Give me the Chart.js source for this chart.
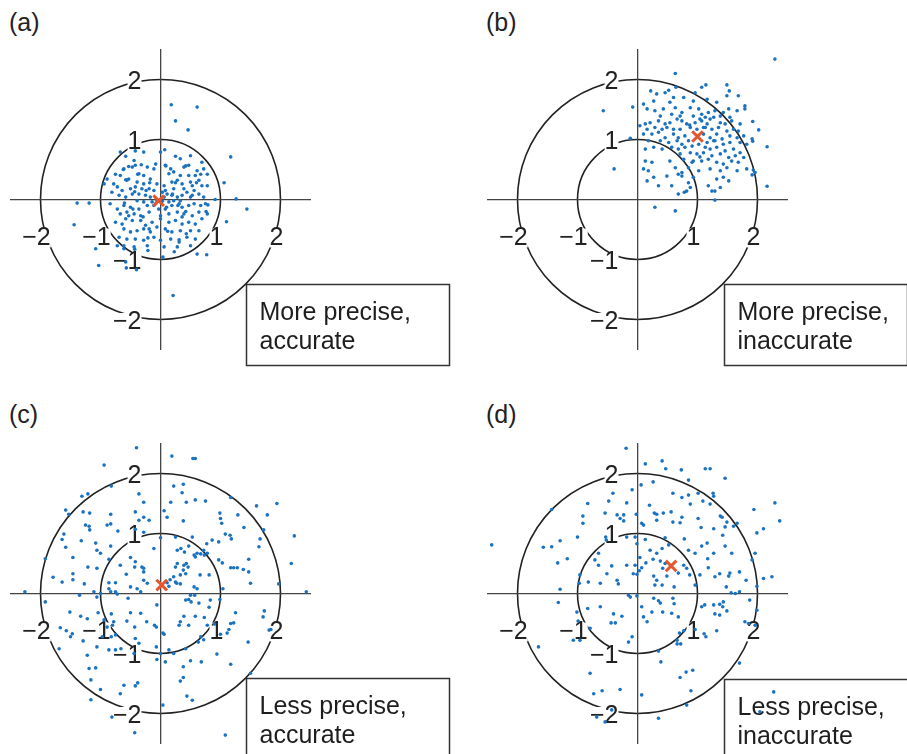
<!DOCTYPE html>
<html>
<head>
<meta charset="utf-8">
<script src="https://cdn.jsdelivr.net/npm/chart.js@4.4.0/dist/chart.umd.min.js"></script>
<style>
  body { margin: 0; background: #fff; width: 907px; height: 754px; overflow: hidden; position: relative; }
  canvas { position: absolute; }
  .tag { position: absolute; font: 25px/1 "Liberation Sans", Arial, sans-serif; color: #222; z-index: 2; }
</style>
</head>
<body>
<div class="tag" style="left:9px;top:10px">(a)</div>
<div class="tag" style="left:486px;top:10px">(b)</div>
<div class="tag" style="left:9px;top:402px">(c)</div>
<div class="tag" style="left:486px;top:402px">(d)</div>
<canvas id="pa" width="470" height="350"></canvas>
<canvas id="pb" width="440" height="350"></canvas>
<canvas id="pc" width="470" height="330"></canvas>
<canvas id="pd" width="440" height="330"></canvas>
<script>
// axis ticks and target rings (data units)
var tickValues = [-2, -1, 1, 2];
var tickLabels = ['\u22122', '\u22121', '1', '2'];
var ringRadii = [1, 2];

// captions
var captionA = ['More precise,', 'accurate'];
var captionB = ['More precise,', 'inaccurate'];
var captionC = ['Less precise,', 'accurate'];
var captionD = ['Less precise,', 'inaccurate'];

// mean of each cloud (red cross)
var meanA = [-0.03, -0.02];
var meanB = [1.0, 1.05];
var meanC = [0.02, 0.14];
var meanD = [0.56, 0.46];

var pointsA = [
  [0.18,1.58],[0.61,1.54],[0.25,1.31],[0.46,1.16],[1.17,0.71],[1.06,0.28],[1.26,0.01],[1.44,-0.16],
  [1.10,-0.37],[0.91,0],[0.79,-0.09],[0.76,-0.2],[-1.39,-0.06],[-1.19,-0.06],[-1.44,-0.42],[-1.08,-0.82],
  [-1.03,-1.1],[-0.57,-1.14],[-0.4,-1.17],[-0.58,-1.04],[0.21,-1.6],[0.61,-0.91],[0.77,-0.92],[0.04,-0.96],
  [-0.89,0.34],[-0.94,0.26],[-0.84,-0.07],[0.23,-0.87],[-0.21,-0.85],[0.07,0.83],[-0.67,0.79],[-0.72,-0.77],
  [-0.61,-0.82],[-0.43,-0.83],
  [-0.42,0.81],[-0.28,0.79],[0,0.79],[0.25,0.72],[0.33,0.68],[0.50,0.73],[0.69,0.62],[-0.44,0.65],
  [-0.58,0.72],[-0.08,0.59],[0.08,0.57],[-0.75,0.42],[-0.61,0.51],[-0.47,0.54],[-0.42,0.57],[-0.22,0.54],
  [-0.11,0.51],[0.17,0.51],[0.22,0.46],[0.39,0.54],[0.47,0.57],[0.61,0.48],[0.72,0.51],[0.58,0.40],
  [0.67,0.42],[0.78,0.42],[-0.36,0.43],[-0.28,0.40],[-0.67,0.40],[0.33,0.40],[0.14,0.43],[-0.78,0.26],
  [-0.72,0.21],[-0.58,0.33],[-0.53,0.34],[-0.39,0.29],[-0.28,0.26],[-0.17,0.34],[-0.06,0.26],[0.06,0.23],
  [0.19,0.29],[0.28,0.32],[0.36,0.26],[0.50,0.29],[0.53,0.23],[0.64,0.32],[0.69,0.23],[0.78,0.23],
  [-0.64,0.15],[-0.50,0.18],[-0.42,0.21],[-0.31,0.18],[-0.19,0.18],[-0.11,0.15],[0.08,0.15],[0.22,0.18],
  [0.39,0.18],[0.44,0.12],[0.56,0.15],[-0.81,0.12],[-0.69,0.07],[-0.58,0.04],[-0.47,0.09],[-0.36,0.09],
  [-0.25,0.07],[-0.17,0.04],[0.11,0.09],[0.19,0.07],[0.28,0.04],[0.36,0.07],[0.50,0.04],[0.64,0.09],
  [0.72,0.04],[0.33,-0.02],[0.22,-0.02],[0.14,-0.04],[-0.14,-0.04],[-0.28,-0.04],[-0.39,-0.02],[-0.72,-0.16],
  [-0.61,-0.10],[-0.50,-0.13],[-0.36,-0.16],[-0.22,-0.10],[-0.11,-0.10],[-0.03,-0.16],[0.08,-0.16],[0.19,-0.10],
  [0.31,-0.07],[0.36,-0.13],[0.47,-0.10],[0.56,-0.07],[0.67,-0.10],[0.75,-0.07],[-0.67,-0.24],[-0.56,-0.21],
  [-0.44,-0.24],[-0.33,-0.27],[-0.19,-0.21],[0,-0.27],[0.14,-0.24],[0.28,-0.21],[0.39,-0.24],[0.53,-0.27],
  [0.64,-0.21],[0.78,-0.24],[-0.75,-0.38],[-0.64,-0.41],[-0.58,-0.32],[-0.47,-0.35],[-0.33,-0.35],[-0.25,-0.43],
  [-0.14,-0.38],[0,-0.32],[0.14,-0.38],[0.25,-0.35],[0.36,-0.41],[0.47,-0.38],[0.58,-0.41],[0.69,-0.32],
  [-0.61,-0.49],[-0.50,-0.54],[-0.39,-0.52],[-0.28,-0.49],[-0.17,-0.54],[-0.06,-0.46],[0.08,-0.49],[0.19,-0.54],
  [0.33,-0.52],[0.50,-0.52],[0.64,-0.52],[-0.69,-0.63],[-0.56,-0.66],[-0.42,-0.66],[-0.28,-0.68],[-0.11,-0.63],
  [0,-0.68],[0.17,-0.66],[0.31,-0.71],[0.44,-0.63],[0.58,-0.66],[-0.61,-0.77],[-0.44,-0.79],[-0.22,-0.77],
  [0.06,-0.79],[0.28,-0.79],[0.50,-0.77],[-0.06,-0.02],[0.06,0.04],[0.03,0.12],[-0.08,-0.07],
  [-0.53,0.55],[-0.32,0.58],[0.09,0.56],[0.42,0.56],[-0.62,0.50],[-0.38,0.42],[0.47,0.40],[-0.56,0.32],
  [-0.18,0.28],[0.25,0.28],[0.60,0.28],[-0.43,0.13],[-0.24,0.15],[0.20,0.09],[0.53,0.07],[-0.60,-0.06],
  [0.03,-0.03],[0.29,-0.10],[-0.46,-0.16],[0.10,-0.13],[0.42,-0.20],[-0.53,-0.27],[-0.29,-0.29],[0.36,-0.29],
  [-0.19,-0.49],[0.12,-0.53],[0.43,-0.57],[-0.21,-0.64],[0.31,-0.67]
];

var pointsB = [
  [2.29,2.34],[0.63,2.10],[1.14,1.91],[1.49,1.91],[0.52,1.82],[0.64,1.87],[1.07,1.87],[-0.57,1.48],
  [-0.08,1.54],[0.04,1.23],[1.92,1.30],[2.02,1.16],[2.16,0.88],[2.16,0.22],[1.93,0.49],[1.96,0.45],
  [1.91,0.41],[1.91,1.01],[1.92,0.97],[1.29,-0.01],[1.29,0.14],[0.68,0.09],[0.78,0.12],[0.29,-0.13],
  [0.63,-0.19],[-0.39,0.51],[-0.12,1.02],[1.68,1.73],[1.53,1.81],[0.22,1.81],
  [0.32,1.76],[0.46,1.78],[0.60,1.70],[0.77,1.70],[0.96,1.78],[1.16,1.67],[1.32,1.62],[1.49,1.73],
  [1.79,1.56],[0.10,1.59],[0.27,1.64],[0.54,1.62],[0.93,1.64],[0.16,1.51],[0.29,1.48],[0.43,1.51],
  [0.63,1.53],[0.74,1.45],[0.88,1.53],[1.02,1.51],[1.07,1.42],[1.18,1.45],[1.29,1.48],[1.43,1.45],
  [1.52,1.51],[1.66,1.48],[1.79,1.51],[0.38,1.39],[0.57,1.42],[0.71,1.39],[0.93,1.39],[1.13,1.37],
  [1.27,1.37],[1.38,1.39],[1.54,1.37],[0.13,1.26],[0.21,1.28],[0.35,1.31],[0.46,1.26],[0.54,1.28],
  [0.66,1.34],[0.74,1.31],[0.82,1.26],[0.96,1.28],[1.07,1.31],[1.16,1.26],[1.21,1.34],[1.38,1.28],
  [1.46,1.26],[1.57,1.31],[1.71,1.26],[0.16,1.17],[0.29,1.20],[0.41,1.17],[0.49,1.20],[0.60,1.17],
  [0.71,1.17],[0.88,1.20],[0.99,1.17],[1.13,1.20],[1.24,1.17],[1.35,1.20],[1.49,1.14],[1.60,1.17],
  [1.68,1.14],[0.10,1.09],[0.24,1.09],[0.35,1.12],[0.46,1.03],[0.60,1.09],[0.68,1.03],[0.79,1.06],
  [1.10,1.09],[1.21,1.03],[1.32,1.09],[1.41,1.01],[1.54,1.06],[1.66,1.03],[1.77,1.06],[0.18,0.98],
  [0.38,0.98],[0.52,0.95],[0.66,0.98],[0.74,0.92],[0.85,0.98],[1.16,0.95],[1.27,0.98],[1.43,0.92],
  [1.54,0.95],[1.71,0.95],[1.82,0.92],[0.13,0.84],[0.27,0.87],[0.41,0.84],[0.57,0.87],[0.68,0.84],
  [0.79,0.87],[0.91,0.89],[1.02,0.92],[1.13,0.87],[1.21,0.84],[1.32,0.87],[1.46,0.81],[1.60,0.84],
  [1.71,0.78],[0.71,0.76],[0.88,0.78],[0.99,0.76],[1.10,0.78],[1.24,0.73],[1.38,0.76],[1.52,0.70],
  [1.63,0.73],[1.77,0.70],[0.13,0.64],[0.24,0.62],[0.54,0.64],[0.77,0.67],[0.93,0.64],[1.07,0.64],
  [1.18,0.67],[1.32,0.62],[1.43,0.59],[1.57,0.64],[1.68,0.62],[0.10,0.51],[0.18,0.48],[0.63,0.53],
  [0.74,0.45],[0.85,0.53],[1.02,0.48],[1.21,0.51],[1.38,0.48],[1.49,0.53],[1.66,0.48],[1.82,0.51],
  [0.27,0.37],[0.49,0.39],[0.68,0.42],[0.74,0.39],[0.93,0.37],[1.32,0.34],[1.43,0.37],[0.35,0.23],
  [0.57,0.23],[0.88,0.20],[1.18,0.23],[1.38,0.20],[0.16,0.31],[0.85,0.28],[1.52,0.31],[0.82,0.14],
  [1.24,0.14],[1.04,1.34],[0.87,1.24],[1.10,1.20],[1.29,0.98],[0.91,0.62],[1.04,0.71]
];

var pointsC = [
  [-0.40,2.43],[0.19,2.29],[0.54,2.25],[0.58,2.25],[-0.94,2.14],[-0.82,1.79],[0.22,1.79],[0.38,1.82],
  [0.36,1.68],[-0.36,1.66],[-1.31,1.62],[-1.21,1.66],[-0.28,1.52],[0.17,1.52],[0.43,1.52],[0.58,1.56],
  [0.75,1.54],[1.17,1.60],[1.60,1.46],[1.94,1.50],[-1.58,1.39],[-1.53,1.32],[-1.29,1.36],[-1.18,1.34],
  [-0.83,1.32],[-0.42,1.36],[0.06,1.38],[0.11,1.27],[-0.36,1.22],[-0.28,1.27],[-0.19,1.22],[0.38,1.21],
  [0.99,1.34],[1.00,1.25],[1.02,1.17],[1.29,1.31],[1.78,1.31],[-1.25,1.14],[-1.19,1.12],[-0.89,1.14],
  [-0.83,1.16],[-1.18,1.06],[-0.71,1.04],[-1.61,0.99],[-1.64,0.90],[-1.32,0.88],[-1.58,0.77],[-1.06,0.72],
  [-0.83,0.79],[-1.00,0.67],[-1.08,0.84],[-0.42,1.07],[-0.28,1.02],[0.00,0.93],[0.25,0.94],[0.53,0.94],
  [0.77,0.83],[0.86,0.89],[0.97,0.86],[1.08,0.99],[1.16,0.97],[1.18,0.91],[1.39,1.10],[1.66,0.91],
  [1.72,1.06],[1.64,0.78],[2.23,0.96],[-0.11,0.75],[0.28,0.72],[0.34,0.75],[0.40,0.69],[0.47,0.79],
  [0.56,0.64],[0.61,0.67],[0.67,0.66],[0.73,0.64],[0.72,0.72],[0.58,0.61],[0.78,0.67],[-1.92,0.58],
  [-1.46,0.60],[-1.21,0.44],[-1.06,0.42],[-0.86,0.57],[-0.67,0.47],[-0.50,0.60],[-0.42,0.53],[-0.43,0.44],
  [-0.31,0.44],[-0.28,0.42],[-0.28,0.36],[-0.57,0.32],[-0.75,0.18],[-0.86,0.18],[-0.86,0.08],[-0.83,0.03],
  [-0.75,0.03],[-0.72,-0.01],[-0.50,0.11],[-0.39,0.08],[-0.33,0.03],[-0.28,0.22],[-0.22,0.17],[0.28,0.50],
  [0.25,0.44],[0.39,0.47],[0.43,0.50],[0.46,0.44],[0.38,0.39],[0.42,0.33],[0.33,0.31],[0.22,0.28],
  [0.16,0.23],[0.25,0.19],[0.27,0.17],[0.33,0.16],[0.11,0.18],[0.14,0.12],[0.66,0.31],[0.81,0.31],
  [0.56,0.11],[0.61,0.08],[0.50,-0.03],[0.97,0.56],[1.03,0.51],[1.17,0.43],[1.22,0.43],[1.28,0.43],
  [1.38,0.40],[1.47,0.36],[1.47,0.57],[1.50,0.17],[1.04,0.08],[1.97,0.16],[2.43,0.03],[2.18,0.50],
  [-1.79,0.27],[-1.64,0.19],[-1.46,0.33],[-1.46,0.23],[-1.27,0.16],[-2.26,0.03],[-1.35,-0.03],[-1.11,0.03],
  [-1.06,-0.06],[-1.00,0.00],[-1.92,-0.14],[-1.51,-0.31],[-1.33,-0.38],[-1.22,-0.42],[-1.04,-0.32],[-0.82,-0.34],
  [-0.78,-0.47],[-0.94,-0.44],[-0.89,-0.56],[-0.80,-0.53],[-0.54,-0.08],[-0.50,-0.32],[-0.56,-0.46],[-0.43,-0.56],
  [-0.33,-0.33],[-0.23,-0.47],[-0.10,-0.53],[-0.07,-0.56],[-0.06,-0.19],[0.04,-0.66],[0.06,-0.68],[0.42,-0.11],
  [0.47,-0.10],[0.51,-0.14],[0.57,-0.03],[0.64,-0.16],[0.83,-0.11],[0.81,-0.23],[0.99,-0.10],[0.33,-0.47],
  [0.31,-0.53],[0.39,-0.38],[0.47,-0.53],[0.58,-0.38],[0.73,-0.40],[0.78,-0.53],[0.90,-0.51],[1.17,-0.50],
  [1.22,-0.49],[1.25,-0.32],[1.14,-0.60],[1.11,-0.66],[1.00,-0.68],[1.73,-0.29],[1.71,-0.39],[1.81,-0.61],
  [1.84,-0.60],[0.67,-0.72],[0.63,-0.81],[0.72,-0.77],[1.46,-0.81],[-1.67,-0.57],[-1.57,-0.62],[-1.47,-0.67],
  [-1.50,-0.72],[-1.29,-0.79],[-1.06,-0.89],[-0.97,-0.72],[-0.82,-0.72],[-0.75,-0.69],[-1.69,-0.92],[-1.22,-1.03],
  [-1.19,-1.25],[-1.08,-1.24],[-1.16,-1.44],[-0.86,-0.94],[-0.75,-0.94],[-0.66,-0.92],[-0.44,-1.00],[-0.36,-0.83],
  [-0.42,-0.75],[-0.07,-0.89],[0.00,-1.00],[-0.06,-1.10],[0.14,-0.94],[0.22,-1.00],[0.08,-1.14],[0.42,-0.92],
  [0.38,-1.22],[0.50,-1.12],[0.68,-1.14],[0.94,-1.01],[1.17,-1.18],[0.38,-1.40],[0.33,-1.46],[-0.38,-1.49],
  [-0.42,-1.54],[-0.61,-1.53],[-1.00,-1.60],[-0.67,-1.67],[-1.16,-1.77],[-0.81,-2.06],[-0.43,-2.32],[0.04,-1.86],
  [0.44,-1.71],[0.53,-1.78],[1.08,-2.36],[1.50,-1.33]
];

var pointsD = [
  [-0.19,2.42],[0.13,2.16],[0.41,2.21],[0.47,2.08],[0.73,2.06],[1.13,2.08],[1.21,2.08],[1.46,1.92],
  [0.85,1.89],[0.26,1.86],[0.06,1.81],[-0.09,1.73],[-0.41,1.67],[0.59,1.67],[0.74,1.60],[0.85,1.64],
  [1.01,1.67],[1.26,1.67],[1.27,1.62],[1.09,1.54],[1.21,1.49],[0.88,1.49],[0.20,1.47],[-0.18,1.51],
  [-0.48,1.54],[-0.83,1.50],[-1.43,1.40],[-0.54,1.34],[-0.34,1.31],[-0.23,1.31],[-0.29,1.25],[-0.23,1.21],
  [-0.02,1.32],[0.28,1.34],[0.32,1.32],[0.43,1.34],[0.56,1.36],[0.74,1.27],[1.01,1.25],[1.38,1.29],
  [1.41,1.27],[1.49,1.19],[1.66,1.17],[1.94,1.40],[2.29,1.51],[2.37,1.21],[2.10,1.08],[1.99,1.01],
  [0.07,1.17],[0.10,1.14],[0.32,1.22],[0.59,1.19],[0.71,1.18],[1.06,1.10],[1.27,1.08],[1.42,0.97],
  [1.46,1.11],[1.60,1.12],[-0.91,1.29],[-0.91,1.17],[-1.00,0.94],[-1.29,0.88],[-1.57,0.77],[-1.43,0.78],
  [-1.17,0.58],[-1.33,0.51],[-2.43,0.81],[-0.53,0.94],[-0.52,0.89],[-0.18,0.94],[-0.04,0.94],[-0.01,0.83],
  [0.13,0.90],[0.46,0.93],[0.52,0.81],[0.78,0.91],[0.85,0.72],[0.96,0.67],[1.07,0.79],[1.16,0.84],
  [1.46,0.79],[1.57,0.67],[1.27,0.67],[1.96,0.67],[1.91,0.56],[-0.65,0.67],[-0.71,0.56],[-0.65,0.47],
  [-0.43,0.46],[-0.18,0.47],[-0.04,0.47],[0.04,0.60],[0.07,0.43],[0.03,0.38],[0.14,0.51],[0.21,0.72],
  [0.26,0.57],[0.32,0.67],[0.41,0.75],[0.38,0.54],[0.42,0.42],[0.46,0.50],[0.68,0.34],[0.77,0.47],
  [0.82,0.42],[0.87,0.31],[1.04,0.31],[1.17,0.58],[1.18,0.43],[1.29,0.28],[1.52,0.29],[1.70,0.36],
  [1.37,0.33],[1.54,0.34],[1.81,0.22],[2.10,0.25],[2.24,0.28],[1.99,0.12],[-0.82,0.19],[-0.62,0.17],
  [-0.51,0.33],[-0.34,0.22],[-0.32,0.16],[-0.07,0.33],[-0.01,0.32],[0.27,0.29],[0.32,0.22],[0.41,0.14],
  [0.49,0.29],[0.61,0.11],[0.29,0.14],[-0.96,0.31],[-0.97,0.17],[-1.29,0.07],[-1.32,-0.15],[-0.15,-0.03],
  [-0.12,-0.06],[-0.01,-0.04],[0.27,-0.08],[0.35,-0.12],[0.38,-0.16],[0.59,-0.08],[0.61,-0.17],[0.96,0.14],
  [1.07,-0.22],[1.12,-0.19],[1.27,-0.19],[1.37,-0.18],[1.43,-0.14],[1.42,-0.22],[1.49,-0.29],[1.37,-0.36],
  [1.29,-0.34],[1.56,0.01],[1.63,0.0],[1.70,0.03],[1.48,0.11],[1.87,-0.11],[1.99,-0.28],[1.79,-0.47],
  [1.85,-0.50],[1.96,-0.53],[-1.01,-0.31],[-0.99,-0.46],[-0.83,-0.25],[-0.62,-0.22],[-0.40,-0.34],[-0.26,-0.38],
  [-0.44,-0.49],[-0.37,-0.49],[-0.79,-0.58],[-0.96,-0.78],[-1.07,-0.78],[-1.65,-0.89],[-0.15,-0.81],[-0.09,-0.72],
  [0.07,-0.22],[0.10,-0.39],[0.16,-0.47],[0.24,-0.31],[0.42,-0.31],[0.57,-0.33],[0.68,-0.39],[0.77,-0.62],
  [0.70,-0.66],[0.66,-0.78],[0.66,-0.84],[0.72,-0.84],[0.96,-0.60],[1.11,-0.67],[1.14,-0.72],[1.32,-0.62],
  [0.35,-0.96],[0.39,-1.14],[0.81,-1.31],[0.92,-1.28],[0.71,-1.40],[0.89,-1.62],[0.82,-1.86],[0.35,-2.08],
  [1.70,-1.16],[2.27,-1.64],[2.04,-1.97],[-0.79,-1.33],[-0.73,-1.67],[-0.59,-1.62],[-0.54,-2.14],[-0.29,-1.60],
  [0.07,-1.69],[-0.43,-1.94],[-0.68,-2.06]
];

// page layout of each panel (pixels): chart area corner, caption box relative to the origin
var panels = [
  { id: 'pa', points: pointsA, mean: meanA, caption: captionA, left: 10, top: 49, box: { dx: 85, dy: 84, w: 203, h: 81 } },
  { id: 'pb', points: pointsB, mean: meanB, caption: captionB, left: 487, top: 49, box: { dx: 86, dy: 84, w: 183, h: 81 } },
  { id: 'pc', points: pointsC, mean: meanC, caption: captionC, left: 10, top: 443, box: { dx: 85, dy: 84, w: 203, h: 120 } },
  { id: 'pd', points: pointsD, mean: meanD, caption: captionD, left: 487, top: 443, box: { dx: 86, dy: 85, w: 240, h: 120 } }
];
var AREA = 300;

var FONT = '"Liberation Sans", Arial, sans-serif';

var targetPlugin = {
  id: 'target',
  beforeDraw: function(chart) {
    var ctx = chart.ctx, sx = chart.scales.x, sy = chart.scales.y;
    var cx = sx.getPixelForValue(0), cy = sy.getPixelForValue(0);
    ctx.save();
    ctx.strokeStyle = '#222';
    ctx.lineWidth = 1.6;
    for (let r of ringRadii) {
      ctx.beginPath();
      ctx.arc(cx, cy, sx.getPixelForValue(r) - cx, 0, Math.PI * 2);
      ctx.stroke();
    }
    ctx.restore();
  },
  beforeDatasetsDraw: function(chart, args, opts) {
    var ctx = chart.ctx, sx = chart.scales.x, sy = chart.scales.y;
    var cx = sx.getPixelForValue(0), cy = sy.getPixelForValue(0);
    var b = opts.box;
    var bx = Math.round(cx + b.dx) + 0.5, by = Math.round(cy + b.dy) + 0.5;
    ctx.save();
    ctx.fillStyle = '#fff';
    ctx.fillRect(bx, by, b.w, b.h);
    ctx.strokeStyle = '#333';
    ctx.lineWidth = 1.5;
    ctx.strokeRect(bx, by, b.w, b.h);
    ctx.fillStyle = '#1e1e1e';
    ctx.font = '25px ' + FONT;
    ctx.textBaseline = 'alphabetic';
    opts.lines.forEach(function(t, i) {
      ctx.fillText(t, bx + 13, by + 35 + i * 29);
    });
    ctx.restore();
  }
};

function axis(isX) {
  return {
    type: 'linear',
    position: 'center',
    min: -2.5,
    max: 2.5,
    grid: { display: false, drawTicks: false },
    border: { display: true, color: '#444', width: 1.3 },
    afterBuildTicks: function(scale) {
      scale.ticks = tickValues.map(function(v) { return { value: v }; });
    },
    afterFit: function(scale) {
      if (isX) scale.height = 0; else scale.width = 0;
      scale.paddingLeft = scale.paddingRight = scale.paddingTop = scale.paddingBottom = 0;
    },
    ticks: {
      autoSkip: false,
      maxRotation: 0,
      callback: function(v) { return tickLabels[tickValues.indexOf(v)]; },
      font: { family: FONT, size: 25, lineHeight: 1 },
      color: '#222',
      padding: isX ? 26 : 19,
      labelOffset: isX ? -4 : 3,
      showLabelBackdrop: true,
      backdropColor: '#fff',
      backdropPadding: { top: -3, bottom: -3, left: 0, right: 0 }
    }
  };
}

for (let p of panels) {
  var canvas = document.getElementById(p.id);
  var chart = new Chart(canvas.getContext('2d'), {
    type: 'scatter',
    data: {
      datasets: [{
        data: [{ x: p.mean[0], y: p.mean[1] }],
        pointStyle: 'crossRot',
        pointRadius: 7.5,
        borderColor: '#e4572e',
        borderWidth: 3,
        clip: false
      }, {
        data: p.points.map(function(d) { return { x: d[0], y: d[1] }; }),
        pointRadius: 1.8,
        backgroundColor: '#1a72c0',
        borderWidth: 0,
        clip: false
      }]
    },
    options: {
      responsive: false,
      animation: false,
      events: [],
      layout: { padding: { left: 0, top: 0, right: canvas.width - AREA, bottom: canvas.height - AREA } },
      scales: { x: axis(true), y: axis(false) },
      plugins: {
        legend: { display: false },
        tooltip: { enabled: false },
        target: { box: p.box, lines: p.caption }
      }
    },
    plugins: [targetPlugin]
  });
  // make the plot area exactly AREA x AREA pixels
  for (let k = 0; k < 4; k++) {
    var ca = chart.chartArea;
    var dw = (ca.right - ca.left) - AREA, dh = (ca.bottom - ca.top) - AREA;
    if (Math.abs(dw) < 0.25 && Math.abs(dh) < 0.25) break;
    chart.options.layout.padding.right += dw;
    chart.options.layout.padding.bottom += dh;
    chart.update();
  }
  canvas.style.left = (p.left - chart.chartArea.left) + 'px';
  canvas.style.top = (p.top - chart.chartArea.top) + 'px';
}
</script>
</body>
</html>
